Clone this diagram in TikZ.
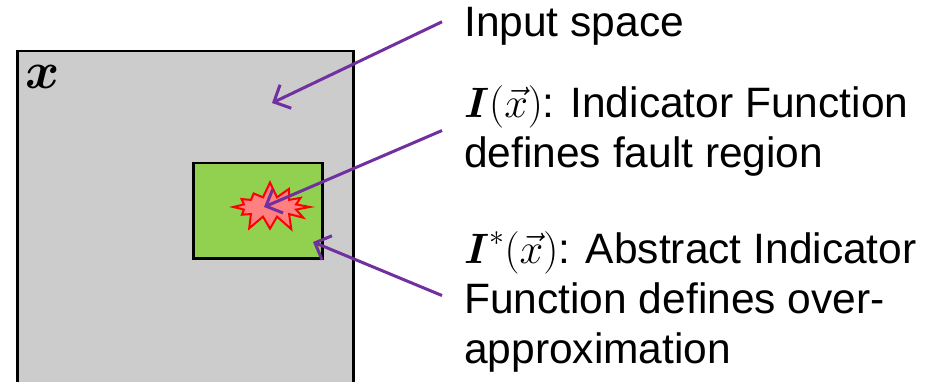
\RequirePackage{fix-cm}
\documentclass[tikz,border=0pt]{standalone}
\usepackage{amsmath}
\usepackage{fontspec}
\setmainfont{Liberation Sans}
\usepackage{tikz}
\definecolor{inputgray}{RGB}{204, 204, 204}
\definecolor{overgreen}{RGB}{146, 208, 80}
\definecolor{faultpink}{RGB}{255, 128, 128}
\definecolor{pointerpurple}{RGB}{112, 48, 160}
\usetikzlibrary{shapes.symbols, arrows.meta, positioning, calc}

\begin{document}
\begin{tikzpicture}[x=1pt, y=-1pt,
    region/.style={draw=black, line width=2.5pt, fill=#1, inner sep=0pt, anchor=north west},
    pointer/.style={draw=pointerpurple, line width=3pt, -{Straight Barb[length=13pt, width=26pt]}},
    caption/.style={anchor=north west, inner sep=0pt, align=left, font=\fontsize{42.5}{50}\selectfont}
]
    \useasboundingbox (0,0) rectangle (928,382);
    \clip (0,0) rectangle (928,382);

    % the input space and the two regions inside it
    \node[region=inputgray, minimum width=336pt, minimum height=360pt] (space) at (16,50) {};
    \node[anchor=center, inner sep=0pt, font=\fontsize{52}{52}\selectfont] (xlab) at (43,77) {$\boldsymbol{x}$};

    \node[region=overgreen, minimum width=129pt, minimum height=95pt] (over) at (192,162) {};

    \node[starburst, starburst points=12, starburst point height=16pt, random starburst=7,
          draw=red, line width=2pt, fill=faultpink, minimum width=86pt, minimum height=52pt] (fault) at (270,207) {};

    \coordinate (spacetip) at (272,103);
    \coordinate (overtip) at (313,242);

    % captions on the right
    \node[caption, anchor=base west] (inspace) at (464,37) {Input space};

    \node[caption] (indfn) at (464,85) {$\boldsymbol{I}(\vec{x})$: Indicator Function\\defines fault region};

    \node[caption] (absfn) at (464,231) {$\boldsymbol{I}^*(\vec{x})$: Abstract Indicator\\Function defines over-\\approximation};

    \draw[pointer] ([xshift=-22pt, yshift=5pt]inspace.west) -- (spacetip);
    \draw[pointer] ([xshift=-22pt]indfn.west) -- ([xshift=-6pt]fault.center);
    \draw[pointer] ([xshift=-22pt, yshift=6pt]absfn.west) -- (overtip);
\end{tikzpicture}
\end{document}
